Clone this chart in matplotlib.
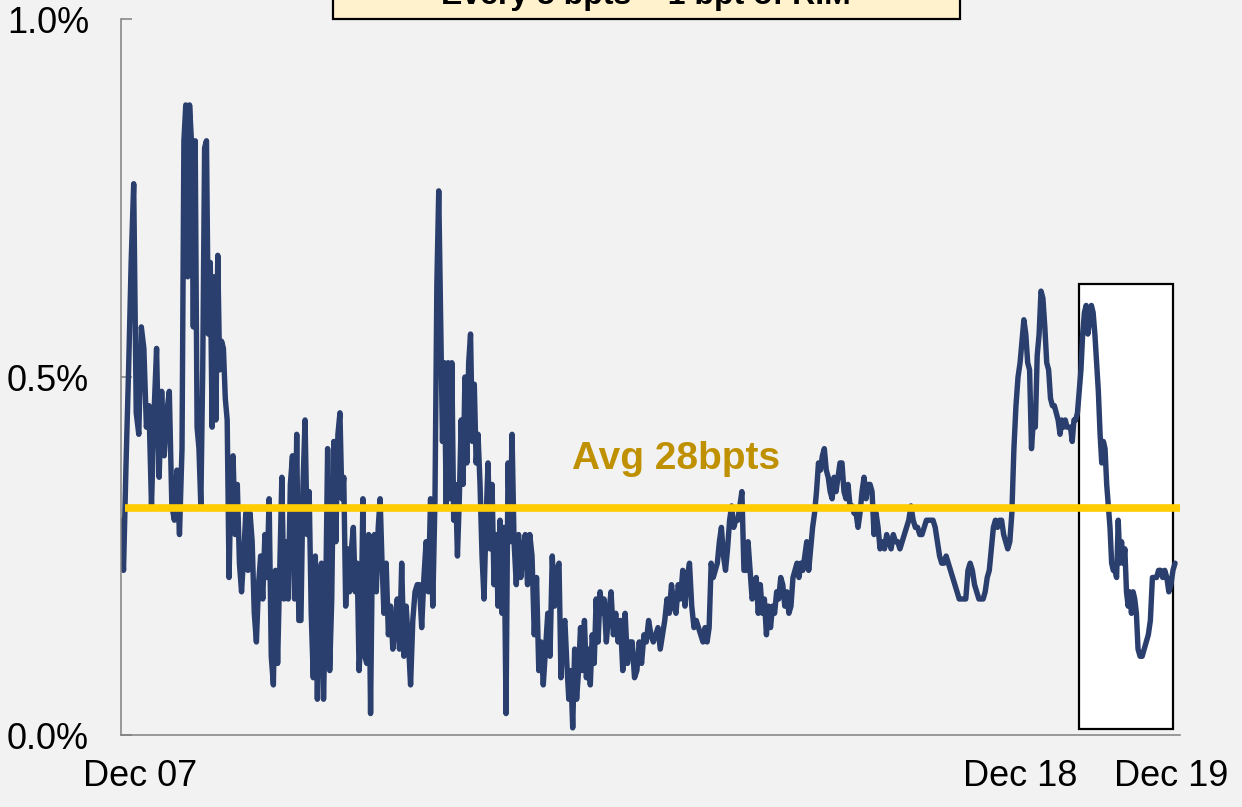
import numpy as np
import matplotlib.pyplot as plt
from matplotlib.patches import Rectangle

plt.rcParams['font.family'] = ['Liberation Sans', 'DejaVu Sans']

# years since Dec 07 at which each block of readings starts (last entry = end of series)
block_start = [0.0, 0.695, 1.252, 2.049, 2.493, 2.994, 3.575, 4.065, 4.475,
               4.987, 5.499, 6.114, 6.626, 7.139, 7.674, 8.163, 8.642, 9.245,
               9.792, 10.236, 10.691, 11.147, 11.579, 12.0]

# readings, bpts
rim_bp = [
    [30, 23, 38, 51, 66, 77, 45, 42, 57, 54, 43, 46, 32, 45, 54, 36, 48, 39, 45, 48, 32, 30, 37, 28],
    [40, 83, 88, 64, 88, 83, 57, 83, 43, 40, 32, 51, 82, 83, 56, 66, 43, 64, 44, 67, 51, 55, 54, 47, 44, 22],
    [35, 39, 28, 35, 24, 20, 25, 31, 23, 31, 27, 17, 13, 21, 25, 19, 28, 22, 33, 11, 7, 23, 10, 23, 36, 19,
     27, 19, 35, 39, 19, 42, 16],
    [16, 35, 44, 28, 34, 17, 8, 25, 5, 22, 24, 5, 18, 40, 9, 19, 41, 27, 42],
    [45, 33, 36, 18, 26, 20, 26, 29, 20, 24, 9, 14, 33, 11, 10, 28, 3, 27, 28, 20, 29, 33, 24],
    [17, 24, 14, 18, 12, 15, 19, 12, 24, 11, 18, 13, 7, 16, 20, 21, 21, 15, 22, 27, 20, 33, 18],
    [33, 63, 76, 58, 41, 52, 32, 52, 33, 52, 30, 35, 25, 33, 44, 35, 50, 38, 52, 56, 41, 49, 38],
    [42, 35, 25, 19, 30, 38, 26, 35, 21, 28, 18, 30, 17, 29, 3, 38, 27, 42],
    [27, 21, 28, 22, 26, 28, 21, 28, 25, 14, 22, 9, 13, 7, 12, 17, 11, 25, 18, 23],
    [24, 8, 15, 16, 10, 5, 9, 1, 12, 5, 9, 15, 9, 16, 8, 12, 7, 14, 10, 19, 13, 20, 17],
    [19, 13, 17, 20, 14, 17, 13, 16, 9, 17, 10, 13, 13, 8, 9, 13, 10, 14, 13, 16, 14, 13, 14],
    [15, 12, 14, 16, 19, 17, 21, 18, 17, 21, 19, 23, 18, 22, 24, 18, 15, 16, 15, 14],
    [13, 15, 13, 15, 24, 22, 23, 24, 27, 29, 25, 23, 26, 30, 32, 29, 30, 30, 32, 34, 23, 23],
    [27, 23, 19, 20, 22, 17, 21, 17, 19, 14, 18, 15, 18, 17, 20, 19, 22, 21, 18, 20, 17, 18, 22],
    [23, 24, 22, 24, 23, 25, 27, 23, 26, 29, 31, 34, 38, 37, 39, 40, 37, 36, 34, 33, 36, 34],
    [36, 38, 38, 34, 33, 35, 32, 32, 31, 31, 29, 31, 34, 36, 33, 35, 35, 34, 28, 31, 29],
    [26, 27, 26, 28, 27, 26, 28, 27, 27, 26, 27, 28, 29, 30, 32, 30, 29, 29, 28, 28, 29, 30, 30, 30],
    [30, 29, 27, 25, 24, 24, 25, 24, 23, 22, 21, 20, 19, 19, 19, 19, 23, 24, 23, 21, 20, 19],
    [19, 19, 20, 22, 23, 26, 29, 30, 29, 30, 30, 28, 27, 26, 27, 31, 40, 46, 50],
    [52, 55, 58, 56, 52, 51, 40, 44, 43, 53, 56, 62, 61, 57, 52, 51, 47, 46, 46, 45, 44],
    [42, 44, 43, 44, 43, 43, 43, 41, 44, 44, 45, 48, 51, 56, 59, 60, 56, 58, 60, 59, 56, 52, 48],
    [42, 38, 41, 40, 35, 32, 29, 24, 23, 23, 22, 30, 24, 27, 24, 26, 20, 18, 20, 17, 20, 19, 17],
    [12, 11, 11, 12, 13, 14, 16, 22, 22, 22, 23, 23, 22, 23, 22, 20, 21, 23, 24],
]

avg_level = 0.317          # %
avg_label = "Avg 28bpts"
title = "Every 5 bpts = 1 bpt of RIM"
tick_years = [0.216, 10.236, 11.955]
tick_labels = ["Dec 07", "Dec 18", "Dec 19"]
y_ticks = [0.0, 0.5, 1.0]

# time axis for each block of readings
t = []
for i, blk in enumerate(rim_bp):
    last = (i == len(rim_bp) - 1)
    t.append(np.linspace(block_start[i], block_start[i + 1], len(blk), endpoint=last))
t = np.concatenate(t)
val = np.concatenate([np.array(b) / 100 for b in rim_bp])

bg = '#F2F2F2'
fig = plt.figure(figsize=(12.42, 8.07), dpi=100, facecolor=bg)
ax = fig.add_axes([0.0974, 0.0892, 0.8527, 0.8872])
ax.set_facecolor(bg)

# highlight box around the latest period
ax.add_patch(Rectangle((10.907, 0.008), 1.071, 0.622, facecolor='white',
                       edgecolor='black', linewidth=1.6, zorder=1))

ax.plot(t, val, color='#2A3F6E', linewidth=3.9, solid_joinstyle='round',
        solid_capstyle='round', zorder=2)
ax.hlines(avg_level, 0.05, 12.057, color='#FFCC00', linewidth=5.5, zorder=3)
ax.text(6.32, 0.385, avg_label, ha='center', va='center', fontsize=28,
        fontweight='bold', color='#BF9000', zorder=4)

ax.set_xlim(0, 12.057)
ax.set_ylim(0, 1.0)
ax.set_yticks(y_ticks)
ax.set_yticklabels([f"{v:.1f}%" for v in y_ticks])
ax.set_xticks(tick_years)
ax.set_xticklabels(tick_labels)
ax.tick_params(axis='y', direction='in', length=8, width=1.1, color='#808080',
               labelsize=26, pad=23)
ax.tick_params(axis='x', length=0, labelsize=26, pad=17)

for s in ['top', 'right']:
    ax.spines[s].set_visible(False)
for s in ['left', 'bottom']:
    ax.spines[s].set_color('#808080')
    ax.spines[s].set_linewidth(1.1)

# title box, cut off at the top edge as in the source
fig.patches.append(Rectangle((333 / 1242, 788 / 807), 627 / 1242, 0.1,
                             transform=fig.transFigure, facecolor='#FFF2CC',
                             edgecolor='black', linewidth=1.6))
fig.text(646 / 1242, 0.9945, title, ha='center', va='baseline', fontsize=23,
         fontweight='bold', color='black')

fig.savefig('out.png', dpi=100, facecolor=bg)
